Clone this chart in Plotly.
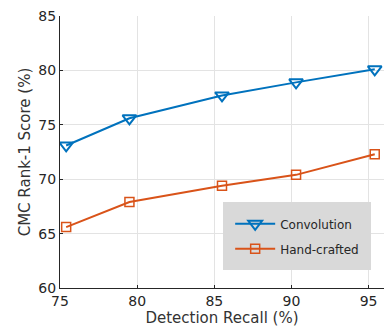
import plotly.graph_objects as go

recall_conv = [75.4, 79.5, 85.5, 90.3, 95.4]
score_conv = [73.1, 75.6, 77.7, 78.9, 80.1]
recall_hand = [75.4, 79.5, 85.5, 90.3, 95.4]
score_hand = [65.6, 67.9, 69.4, 70.4, 72.3]
x_ticks = [75, 80, 85, 90, 95]
y_ticks = [60, 65, 70, 75, 80, 85]

blue = "#0072BD"
orange = "#D95319"

fig = go.Figure()
fig.add_trace(go.Scatter(x=recall_conv, y=score_conv, mode="lines+markers", name="Convolution",
                         legendgroup="a",
                         line=dict(color=blue, width=2),
                         marker=dict(symbol="triangle-down-open", size=12, color=blue, line=dict(width=2))))
fig.add_trace(go.Scatter(x=recall_hand, y=score_hand, mode="lines+markers", name="Hand-crafted",
                         legendgroup="b",
                         line=dict(color=orange, width=2),
                         marker=dict(symbol="square-open", size=9, color=orange, line=dict(width=1.5))))

axis_common = dict(showgrid=True, gridcolor="#e3e3e3", gridwidth=1, zeroline=False,
                   showline=True, linecolor="#262626", linewidth=1,
                   ticks="inside", ticklen=3, tickcolor="#262626",
                   tickfont=dict(size=14, color="#262626"))
fig.update_xaxes(range=[75, 96], tickvals=x_ticks,
                 title=dict(text="Detection Recall (%)", font=dict(size=15, color="#333333"), standoff=2),
                 **axis_common)
fig.update_yaxes(range=[60, 85], tickvals=y_ticks,
                 title=dict(text="CMC Rank-1 Score (%)", font=dict(size=15, color="#333333"), standoff=4),
                 **axis_common)

fig.update_layout(width=390, height=328, margin=dict(l=60, r=6, t=16, b=40),
                  plot_bgcolor="white", paper_bgcolor="white",
                  font=dict(family="DejaVu Sans", color="#262626"),
                  legend=dict(x=0.732, y=0.19, xanchor="center", yanchor="middle",
                              bgcolor="#d9d9d9", bordercolor="#d9d9d9", borderwidth=7,
                              font=dict(size=12, color="#262626"),
                              itemwidth=40, tracegroupgap=6))
fig.write_html("out.html")
